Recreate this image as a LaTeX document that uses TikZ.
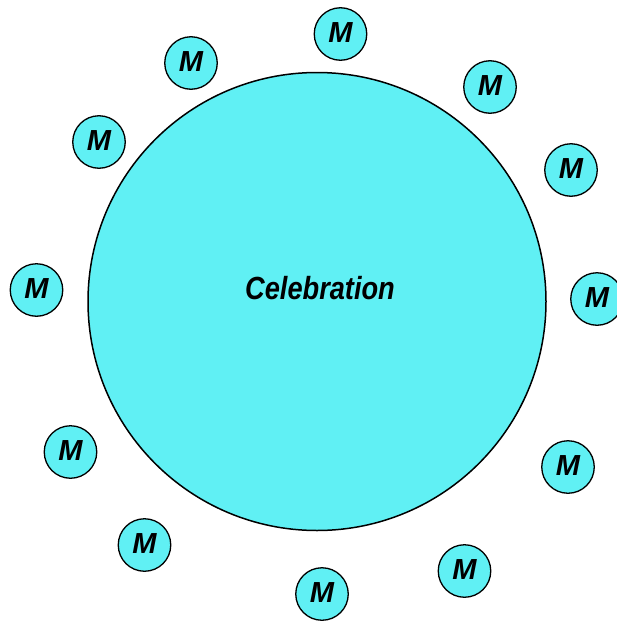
\documentclass[tikz,border=0pt]{standalone}
\usepackage{fontspec}
\setmainfont{Liberation Sans}
\definecolor{cel}{RGB}{96,240,244}
\begin{document}
\begin{tikzpicture}[x=1pt,y=-1pt,
  member/.style={circle,draw=black,line width=1.3pt,fill=cel,minimum size=52.5pt,inner sep=0pt,
    font=\fontsize{29}{30}\selectfont\bfseries\itshape},
  bigc/.style={circle,draw=black,line width=1.5pt,fill=cel,minimum size=458pt,inner sep=0pt}]
\fill[white] (0,0) rectangle (616,621);
\useasboundingbox (0,0) rectangle (616,621);
\node[bigc] (C) at (317,301.5) {};
\node[font=\fontsize{32}{34}\selectfont\bfseries\itshape,inner sep=0pt] (lbl) at (320,288) {\scalebox{0.85}[1]{Celebration}};
\node[member] (m1) at (340.5,34) {\raisebox{2pt}{M}};
\node[member] (m2) at (191,63) {\raisebox{2pt}{M}};
\node[member] (m3) at (490,87) {\raisebox{2pt}{M}};
\node[member] (m4) at (99,142) {\raisebox{2pt}{M}};
\node[member] (m5) at (571,170) {\raisebox{2pt}{M}};
\node[member] (m6) at (36.5,290) {\raisebox{2pt}{M}};
\node[member] (m7) at (597,299) {\raisebox{2pt}{M}};
\node[member] (m8) at (70.5,452) {\raisebox{2pt}{M}};
\node[member] (m9) at (568,467) {\raisebox{2pt}{M}};
\node[member] (m10) at (144.5,545) {\raisebox{2pt}{M}};
\node[member] (m11) at (464.5,571) {\raisebox{2pt}{M}};
\node[member] (m12) at (322,594) {\raisebox{2pt}{M}};
\end{tikzpicture}
\end{document}
